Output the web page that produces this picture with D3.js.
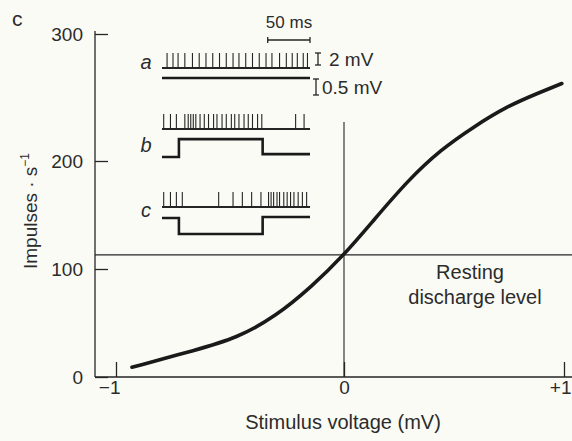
<!DOCTYPE html>
<html>
<head>
<meta charset="utf-8">
<script src="https://cdn.jsdelivr.net/npm/d3@7"></script>
<style>
  body { margin: 0; background: #fbfbf6; }
  svg { display: block; }
  text { font-family: "Liberation Sans", Arial, sans-serif; fill: #2b2b2b; }
</style>
</head>
<body>
<div id="chart"></div>
<script>
// response curve
var voltage = [-0.93, -0.65, -0.47, -0.30, -0.14, 0, 0.13, 0.29, 0.44, 0.59, 0.74, 0.89, 0.99];
var rate    = [9, 25, 36, 56, 84, 113, 144, 182, 209, 227, 243, 254, 261];
var restingLevel = 113;

var yTicks = [0, 100, 200, 300];
var xTicks = [-1, 0, 1];
var xTickLabels = ["\u22121", "0", "+1"];

// inset recordings (times in ms)
var traceLength = 175;
var stimOn = 20, stimOff = 119;
var spikesA = [6, 13, 19, 27, 36, 44, 52, 60, 68, 76, 84, 91, 99, 107, 115, 123, 130, 139, 147, 154, 160, 167, 172];
var spikesB = [2, 10, 17, 27, 31, 34, 37, 40, 45, 50, 55, 61, 65, 71, 76, 82, 86, 91, 97, 102, 107, 113, 118, 158, 168];
var spikesC = [2, 10, 17, 24, 67, 84, 95, 106, 117, 126, 129, 132, 136, 139, 144, 148, 152, 156, 161, 166, 171];
// stimulus level (mV) before, during, after
var stimA = [0, 0, 0];
var stimB = [0, 0.56, 0.09];
var stimC = [0, -0.5, 0.03];
var spikeHeight = 2.5; // mV

var w = 572, h = 441;
var ink = "#252525";

var svg = d3.select("#chart")
    .append("svg")
    .attr("width", w)
    .attr("height", h);

var x = d3.scaleLinear().domain([-1, 0, 1]).range([116, 344, 564]);
var y = d3.scaleLinear().domain([0, 100, 200, 300]).range([377, 269, 161, 34]);

// axes
svg.append("line")
    .attr("x1", 95).attr("x2", 95)
    .attr("y1", 31).attr("y2", y(0))
    .attr("stroke", ink).attr("stroke-width", 1.3);
svg.append("line")
    .attr("x1", 95).attr("x2", w)
    .attr("y1", y(0)).attr("y2", y(0))
    .attr("stroke", ink).attr("stroke-width", 1.3);

var yAxis = svg.append("g")
    .attr("transform", "translate(95,0)")
    .call(d3.axisLeft(y).tickValues(yTicks).tickSize(-13).tickPadding(12).tickSizeOuter(0));
yAxis.select(".domain").remove();
yAxis.selectAll("line").attr("stroke", ink).attr("stroke-width", 1.3);
yAxis.selectAll("text")
    .attr("font-size", 19)
    .attr("font-family", "Liberation Sans, Arial, sans-serif")
    .attr("fill", "#2b2b2b");

var xAxis = svg.append("g")
    .attr("transform", "translate(0," + y(0) + ")")
    .call(d3.axisBottom(x).tickValues(xTicks).tickSize(-15).tickPadding(3)
        .tickFormat(function (d, i) { return xTickLabels[i]; }));
xAxis.select(".domain").remove();
xAxis.selectAll("line").attr("stroke", ink).attr("stroke-width", 1.3);
xAxis.selectAll("text")
    .attr("font-size", 19)
    .attr("font-family", "Liberation Sans, Arial, sans-serif")
    .attr("fill", "#2b2b2b")
    .attr("text-anchor", function (d) { return d === 0 ? "middle" : "end"; })
    .attr("dx", function (d) { return d === -1 ? 4 : (d === 1 ? 7 : 0); });

// reference lines
svg.append("line")
    .attr("x1", 95).attr("x2", w)
    .attr("y1", y(restingLevel)).attr("y2", y(restingLevel))
    .attr("stroke", ink).attr("stroke-width", 1.2);
svg.append("line")
    .attr("x1", x(0)).attr("x2", x(0))
    .attr("y1", 122).attr("y2", y(0))
    .attr("stroke", ink).attr("stroke-width", 1.1);

// curve
var line = d3.line()
    .x(function (d, i) { return x(voltage[i]); })
    .y(function (d, i) { return y(rate[i]); })
    .curve(d3.curveBasis);
svg.append("path")
    .datum(voltage)
    .attr("d", line)
    .attr("fill", "none")
    .attr("stroke", "#1a1a1a")
    .attr("stroke-width", 3.6)
    .attr("stroke-linecap", "round");

// labels
svg.append("text")
    .attr("x", 12).attr("y", 26)
    .attr("font-size", 21)
    .text("c");

svg.append("text")
    .attr("x", 343).attr("y", 429)
    .attr("text-anchor", "middle")
    .attr("font-size", 20)
    .text("Stimulus voltage (mV)");

var ylab = svg.append("text")
    .attr("transform", "translate(37,211) rotate(-90)")
    .attr("text-anchor", "middle")
    .attr("font-size", 19);
ylab.append("tspan").text("Impulses \u00b7 s");
ylab.append("tspan").attr("dy", -8).attr("font-size", 12).text("\u22121");

svg.append("text")
    .attr("x", 470).attr("y", 279)
    .attr("text-anchor", "middle")
    .attr("font-size", 20)
    .text("Resting");
svg.append("text")
    .attr("x", 475).attr("y", 304)
    .attr("text-anchor", "middle")
    .attr("font-size", 20)
    .text("discharge level");

// inset
var t = d3.scaleLinear().domain([0, traceLength]).range([162, 310]);
var spikeScale = d3.scaleLinear().domain([0, 2]).range([0, 12]);
var stimScale = d3.scaleLinear().domain([0, 0.5]).range([0, 16]);

var rows = [
    {label: "a", spikes: spikesA, stim: stimA, spikeY: 68, stimY: 78, labelY: 69},
    {label: "b", spikes: spikesB, stim: stimB, spikeY: 129, stimY: 157, labelY: 152},
    {label: "c", spikes: spikesC, stim: stimC, spikeY: 207, stimY: 218, labelY: 217}
];

var inset = svg.append("g");

rows.forEach(function (r) {
    var g = inset.append("g");
    g.append("text")
        .attr("x", 146).attr("y", r.labelY)
        .attr("text-anchor", "middle")
        .attr("font-size", 20)
        .attr("font-style", "italic")
        .text(r.label);

    g.append("line")
        .attr("x1", t(0)).attr("x2", t(traceLength))
        .attr("y1", r.spikeY).attr("y2", r.spikeY)
        .attr("stroke", ink).attr("stroke-width", 1.8);

    g.selectAll("line.spike")
        .data(r.spikes)
        .enter()
        .append("line")
        .attr("class", "spike")
        .attr("x1", function (d) { return t(d); })
        .attr("x2", function (d) { return t(d); })
        .attr("y1", r.spikeY)
        .attr("y2", r.spikeY - spikeScale(spikeHeight))
        .attr("stroke", ink)
        .attr("stroke-width", 1.1);

    var steps = [
        {time: 0, v: r.stim[0]},
        {time: stimOn, v: r.stim[1]},
        {time: stimOff, v: r.stim[2]},
        {time: traceLength, v: r.stim[2]}
    ];
    var stepLine = d3.line()
        .x(function (d) { return t(d.time); })
        .y(function (d) { return r.stimY - stimScale(d.v); })
        .curve(d3.curveStepAfter);
    g.append("path")
        .datum(steps)
        .attr("d", stepLine)
        .attr("fill", "none")
        .attr("stroke", "#1a1a1a")
        .attr("stroke-width", 2.6);
});

// scale bars
var bar = inset.append("g").attr("stroke", ink).attr("stroke-width", 1.3);
bar.append("line").attr("x1", t(125)).attr("x2", t(175)).attr("y1", 40).attr("y2", 40);
bar.append("line").attr("x1", t(125)).attr("x2", t(125)).attr("y1", 37).attr("y2", 43);
bar.append("line").attr("x1", t(175)).attr("x2", t(175)).attr("y1", 37).attr("y2", 43);
inset.append("text")
    .attr("x", 289).attr("y", 28)
    .attr("text-anchor", "middle")
    .attr("font-size", 17)
    .text("50 ms");

function vbar(cx, y0, len) {
    bar.append("line").attr("x1", cx).attr("x2", cx).attr("y1", y0).attr("y2", y0 + len);
    bar.append("line").attr("x1", cx - 3).attr("x2", cx + 3).attr("y1", y0).attr("y2", y0);
    bar.append("line").attr("x1", cx - 3).attr("x2", cx + 3).attr("y1", y0 + len).attr("y2", y0 + len);
}
vbar(318, 53, spikeScale(2));
vbar(316, 79, stimScale(0.5));

inset.append("text")
    .attr("x", 329).attr("y", 66)
    .attr("font-size", 19)
    .text("2 mV");
inset.append("text")
    .attr("x", 322).attr("y", 94)
    .attr("font-size", 19)
    .text("0.5 mV");
</script>
</body>
</html>
